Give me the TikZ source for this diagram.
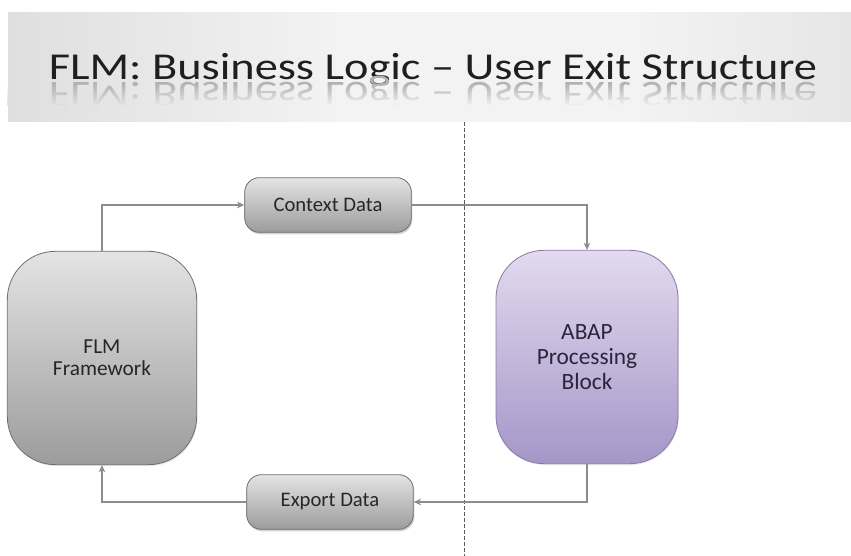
\documentclass[tikz,border=0pt]{standalone}
\usepackage{graphicx}
\usepackage{fontspec}
\setmainfont{Carlito}
\usetikzlibrary{arrows.meta,shadows,fadings}

\definecolor{bannerside}{HTML}{A6A6A6}
\definecolor{bannerlite}{HTML}{DCDCDC}
\definecolor{bannermid}{HTML}{F3F3F3}
\definecolor{edgegray}{HTML}{6E6E6E}
\definecolor{linegray}{HTML}{8C8C8C}
\definecolor{graytop}{HTML}{E4E4E4}
\definecolor{graybot}{HTML}{9C9C9C}
\definecolor{lilactop}{HTML}{E2DAEE}
\definecolor{lilacbot}{HTML}{A596C8}
\definecolor{lilacedge}{HTML}{8878A8}
\definecolor{labeltext}{HTML}{262626}
\definecolor{abaptext}{HTML}{28263A}

\pgfdeclarehorizontalshading{bannershade}{100bp}{
  color(0bp)=(bannerside); color(22bp)=(bannerlite); color(45bp)=(bannermid);
  color(62bp)=(bannermid); color(85bp)=(bannerlite); color(100bp)=(bannerside)}

\newcommand{\titletext}{\scalebox{1.22}[1]{FLM: Business Logic -- User Exit Structure}}

\tikzset{
  databox/.style={draw=edgegray, line width=0.6pt, rounded corners=11pt,
    minimum width=125pt, minimum height=41pt, inner sep=0pt,
    top color=graytop, bottom color=graybot,
    drop shadow={opacity=0.35, shadow xshift=0.8pt, shadow yshift=-1.5pt},
    font=\fontsize{15.5}{18}\selectfont, text=labeltext},
  bigblock/.style={draw=edgegray, line width=0.6pt, rounded corners=36pt,
    minimum width=142pt, minimum height=160pt, inner sep=0pt, align=center,
    top color=graytop, bottom color=graybot,
    drop shadow={opacity=0.2, shadow xshift=0.6pt, shadow yshift=-1pt},
    font=\fontsize{16}{16.5}\selectfont, text=labeltext},
  link/.style={draw=linegray, line width=0.8pt,
    -{Stealth[length=5.5pt,width=5pt]}},
}

\begin{document}
\begin{tikzpicture}[x=0.75pt, y=-0.75pt]
  \useasboundingbox (0,0) rectangle (851,556);

  % 标题栏
  \shade[shading=bannershade] (8,13) rectangle (851,122);
  \node[anchor=base, inner sep=0pt, font=\fontsize{28.5}{34}\selectfont,
    text=black!88] (title) at (433,80) {\titletext};

  % 倒影, 下面再盖一层渐隐
  \begin{scope}[shift={(433,83)}, yscale=-1]
    \node[anchor=base, inner sep=0pt, transform shape,
      font=\fontsize{28.5}{34}\selectfont, text=black!30] (mirror) at (0,0)
      {\titletext};
  \end{scope}
  \shade[shading=bannershade, path fading=north] (8,83) rectangle (851,106);
  \shade[shading=bannershade] (8,106) rectangle (851,122);

  % 分界虚线
  \draw[black!65, line width=0.7pt, dash pattern=on 3pt off 1.5pt]
    (464,122) -- (464,556);

  % 方框
  \node[bigblock] (flm) at (102,358) {FLM\\Framework};
  \node[bigblock, minimum width=136.5pt, draw=lilacedge,
    top color=lilactop, bottom color=lilacbot,
    font=\fontsize{17.5}{19}\selectfont, text=abaptext]
    (abap) at (587,357) {ABAP\\Processing\\Block};
  \node[databox] (ctx) at (328,205) {Context Data};
  \node[databox] (exp) at (330,502) {Export Data};

  % 连线
  \draw[link] (flm.north) |- (ctx.west);
  \draw[link] (ctx.east) -| (abap.north);
  \draw[link] (abap.south) |- (exp.east);
  \draw[link] (exp.west) -| (flm.south);

\end{tikzpicture}
\end{document}
